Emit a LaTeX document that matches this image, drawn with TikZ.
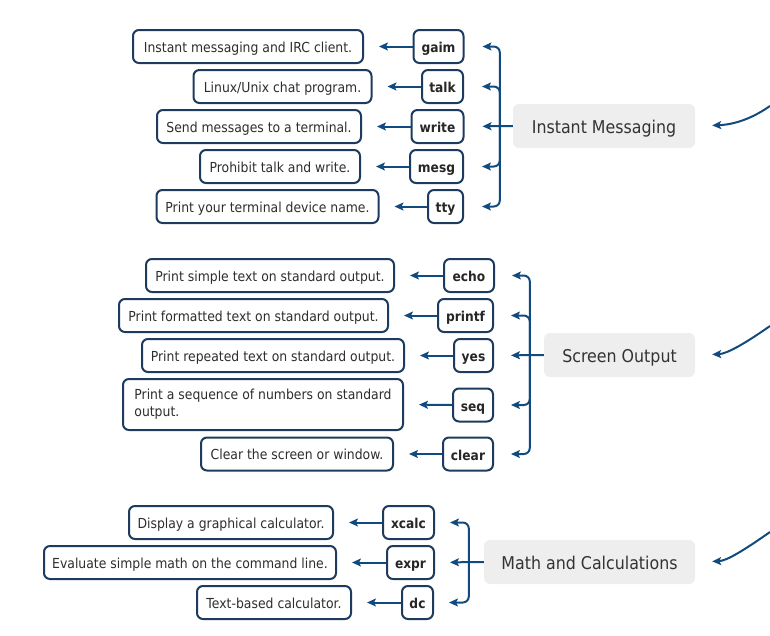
\documentclass[tikz,border=0pt]{standalone}
\usepackage{fontspec}
\setmainfont{DejaVu Sans}[FakeStretch=0.9]
\usetikzlibrary{arrows.meta}
\definecolor{boxline}{HTML}{1D3B5E}
\definecolor{linkc}{HTML}{114A7E}
\definecolor{catfill}{HTML}{EEEEEE}
\definecolor{cattext}{HTML}{333333}
\tikzset{
  descbase/.style={draw=boxline, line width=2pt, rounded corners=6pt, fill=white, inner sep=0pt,
    minimum height=33pt, font=\fontsize{13.8}{17}\selectfont, text=black!82},
  desc/.style={descbase, text height=11pt, text depth=0pt},
  cmd/.style={draw=boxline, line width=2pt, rounded corners=6pt, fill=white, inner sep=0pt,
    minimum height=33pt, font=\fontsize{13.6}{16}\selectfont\bfseries, text=black!85,
    text height=12.5pt, text depth=0pt},
  cat/.style={fill=catfill, rounded corners=6pt, inner sep=0pt, minimum height=44pt,
    font=\fontsize{17.6}{20}\selectfont, text=cattext, text height=15pt, text depth=0pt},
  link/.style={draw=linkc, line width=2pt, -{Stealth[length=9pt,width=8pt,inset=2pt]}},
  brk/.style={link, rounded corners=6pt},
}
\begin{document}
\begin{tikzpicture}[x=1pt,y=-1pt]
\useasboundingbox (0,0) rectangle (770,635);

% ---------- Instant Messaging ----------
\node[desc, minimum width=230] (dgaim)  at (248,46.5)  {Instant messaging and IRC client.};
\node[desc, minimum width=178] (dtalk)  at (282.5,86.5) {Linux/Unix chat program.};
\node[desc, minimum width=204] (dwrite) at (259,126.5) {Send messages to a terminal.};
\node[desc, minimum width=160] (dmesg)  at (280,166.5) {Prohibit talk and write.};
\node[desc, minimum width=222] (dtty)   at (267.5,206.5) {Print your terminal device name.};

\node[cmd, minimum width=50] (gaim)  at (438.5,46.5)  {gaim};
\node[cmd, minimum width=41] (talk)  at (442.5,86.5)  {talk};
\node[cmd, minimum width=52] (write) at (437.5,126.5) {write};
\node[cmd, minimum width=53] (mesg)  at (436.5,166.5) {mesg};
\node[cmd, minimum width=35] (tty)   at (445.5,206.5) {tty};

\node[cat, minimum width=182] (cat1) at (604,126) {Instant Messaging};
\coordinate (b1) at ([xshift=-13pt]cat1.west);

\foreach \c/\d in {gaim/dgaim,talk/dtalk,write/dwrite,mesg/dmesg,tty/dtty}
  \draw[link, shorten >=15pt] (\c.west) -- (\d.east);
\draw[link, shorten >=18pt] (cat1.west) -- (write.east);
\foreach \c in {gaim,talk,mesg,tty}
  \draw[brk, shorten >=18pt] (b1) |- (\c.east);

\coordinate (in1) at (770,106);
\draw[link, shorten >=17pt] (in1) to[out=215,in=2] (cat1.east);

% ---------- Screen Output ----------
\node[desc, minimum width=248] (decho)   at (270,275.5) {Print simple text on standard output.};
\node[desc, minimum width=269] (dprintf) at (253.5,315.5) {Print formatted text on standard output.};
\node[desc, minimum width=262] (dyes)    at (273,355.5) {Print repeated text on standard output.};
\node[descbase, minimum width=280, minimum height=51, align=left] (dseq) at (263,404.5)
  {\strut Print a sequence of numbers on standard\\output.\strut};
\node[desc, minimum width=192] (dclear)  at (297,454) {Clear the screen or window.};

\node[cmd, minimum width=50] (echo)   at (469,275.5) {echo};
\node[cmd, minimum width=55] (printf) at (465.5,315.5) {printf};
\node[cmd, minimum width=39] (yes)    at (473.5,355.5) {yes};
\node[cmd, minimum width=40] (seq)    at (473,405) {seq};
\node[cmd, minimum width=50] (clear)  at (468,454) {clear};

\node[cat, minimum width=151] (cat2) at (619.5,355) {Screen Output};
\coordinate (b2) at ([xshift=-14pt]cat2.west);

\foreach \c/\d in {echo/decho,printf/dprintf,yes/dyes,seq/dseq,clear/dclear}
  \draw[link, shorten >=15pt] (\c.west) -- (\d.east);
\draw[link, shorten >=17pt] (cat2.west) -- (yes.east);
\foreach \c in {echo,printf,seq,clear}
  \draw[brk, shorten >=17pt] (b2) |- (\c.east);

\coordinate (in2) at (770,326);
\draw[link, shorten >=17pt] (in2) to[out=215,in=2] (cat2.east);

% ---------- Math and Calculations ----------
\node[desc, minimum width=204] (dxcalc) at (231,522.5) {Display a graphical calculator.};
\node[desc, minimum width=292] (dexpr)  at (190,562.5) {Evaluate simple math on the command line.};
\node[desc, minimum width=154] (ddc)    at (274,602.5) {Text-based calculator.};

\node[cmd, minimum width=51] (xcalc) at (408.5,522.5) {xcalc};
\node[cmd, minimum width=47] (expr)  at (410.5,562.5) {expr};
\node[cmd, minimum width=31] (dc)    at (417.5,602.5) {dc};

\node[cat, minimum width=211] (cat3) at (589.5,562) {Math and Calculations};
\coordinate (b3) at ([xshift=-15pt]cat3.west);

\foreach \c/\d in {xcalc/dxcalc,expr/dexpr,dc/ddc}
  \draw[link, shorten >=15pt] (\c.west) -- (\d.east);
\draw[link, shorten >=15pt] (cat3.west) -- (expr.east);
\foreach \c in {xcalc,dc}
  \draw[brk, shorten >=15pt] (b3) |- (\c.east);

\coordinate (in3) at (770,532);
\draw[link, shorten >=17pt] (in3) to[out=215,in=2] (cat3.east);
\end{tikzpicture}
\end{document}
